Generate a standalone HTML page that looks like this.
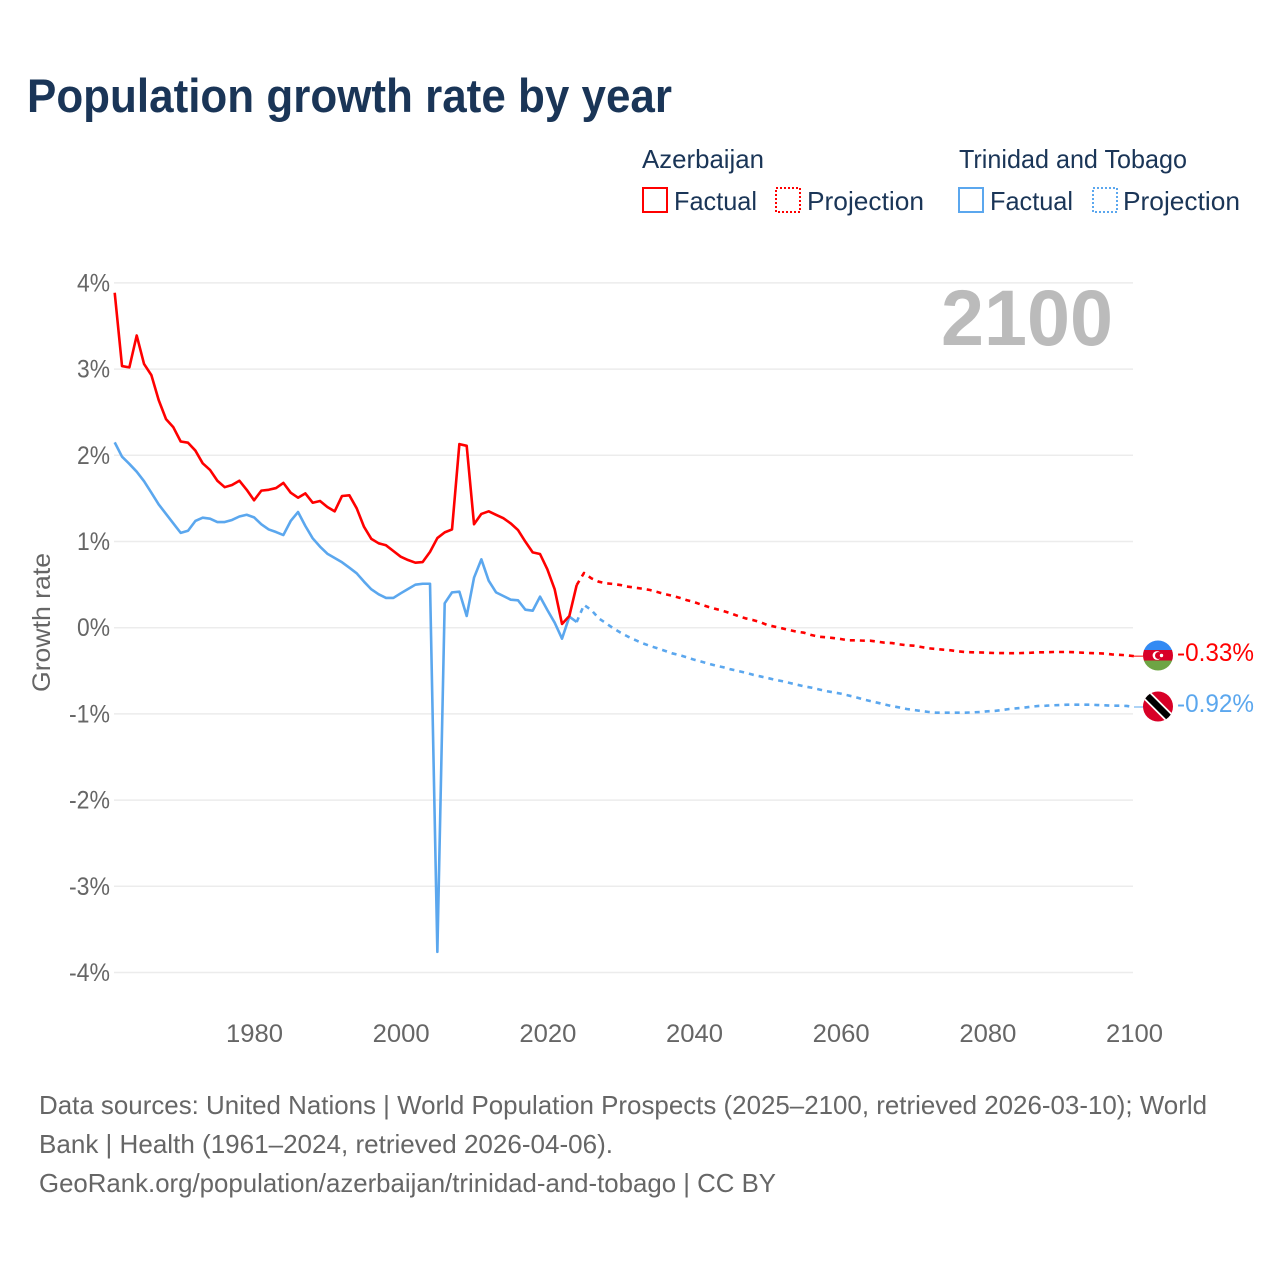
<!DOCTYPE html>
<html lang="en">
<head>
<meta charset="utf-8">
<title>Population growth rate by year</title>
<style>
html,body{margin:0;padding:0;background:#fff;}
svg{display:block;}
text{font-family:"Liberation Sans",sans-serif;}
</style>
</head>
<body>
<svg id="chart" xmlns="http://www.w3.org/2000/svg" width="1280" height="1280" viewBox="0 0 1280 1280">
  <rect x="0" y="0" width="1280" height="1280" fill="#ffffff"/>
  <text x="27" y="112" font-size="47" font-weight="700" fill="#1a3557" textLength="645" lengthAdjust="spacingAndGlyphs">Population growth rate by year</text>

  <g font-size="26" fill="#1a3557">
    <text x="642" y="168" textLength="122" lengthAdjust="spacingAndGlyphs">Azerbaijan</text>
    <text x="959" y="168" textLength="228" lengthAdjust="spacingAndGlyphs">Trinidad and Tobago</text>
    <rect x="643" y="188" width="24" height="24" fill="none" stroke="#ff0000" stroke-width="2"/>
    <text x="674" y="210" textLength="83" lengthAdjust="spacingAndGlyphs">Factual</text>
    <rect x="776" y="188" width="24" height="24" fill="none" stroke="#ff0000" stroke-width="2" stroke-dasharray="2 2"/>
    <text x="807" y="210" textLength="117" lengthAdjust="spacingAndGlyphs">Projection</text>
    <rect x="959" y="188" width="24" height="24" fill="none" stroke="#5ba7ee" stroke-width="2"/>
    <text x="990" y="210" textLength="83" lengthAdjust="spacingAndGlyphs">Factual</text>
    <rect x="1093" y="188" width="24" height="24" fill="none" stroke="#5ba7ee" stroke-width="2" stroke-dasharray="2 2"/>
    <text x="1123" y="210" textLength="117" lengthAdjust="spacingAndGlyphs">Projection</text>
  </g>

  <g id="grid-layer"></g>
  <g id="tick-layer" font-size="25" fill="#666666"></g>

  <text x="941" y="345" font-size="79" font-weight="700" fill="#bbbbbb" textLength="172" lengthAdjust="spacingAndGlyphs">2100</text>
  <text transform="translate(50,692) rotate(-90)" font-size="25" fill="#666666" textLength="139" lengthAdjust="spacingAndGlyphs">Growth rate</text>

  <g id="series-layer"></g>

  <defs>
    <clipPath id="clip-az"><circle cx="1158" cy="655.5" r="15"/></clipPath>
    <clipPath id="clip-tt"><circle cx="1158" cy="706.5" r="15"/></clipPath>
  </defs>
  <g clip-path="url(#clip-az)">
    <rect x="1143" y="640" width="30" height="11" fill="#338af3"/>
    <rect x="1143" y="650" width="30" height="11" fill="#d80027"/>
    <rect x="1143" y="660.5" width="30" height="11" fill="#6da544"/>
    <circle cx="1157" cy="655.5" r="4.4" fill="#ffffff"/>
    <circle cx="1158.5" cy="655.5" r="3.5" fill="#d80027"/>
    <circle cx="1161.5" cy="655.5" r="1.7" fill="#ffffff"/>
  </g>
  <g clip-path="url(#clip-tt)">
    <rect x="1143" y="691" width="30" height="31" fill="#d80027"/>
    <line x1="1143" y1="691.5" x2="1173" y2="721.5" stroke="#ffffff" stroke-width="10"/>
    <line x1="1143" y1="691.5" x2="1173" y2="721.5" stroke="#000000" stroke-width="6.5"/>
  </g>
  <text x="1177" y="661" font-size="25" fill="#ff0000" textLength="77" lengthAdjust="spacingAndGlyphs">-0.33%</text>
  <text x="1177" y="712" font-size="25" fill="#5ba7ee" textLength="77" lengthAdjust="spacingAndGlyphs">-0.92%</text>

  <g font-size="26" fill="#666666">
    <text x="39" y="1114" textLength="1168" lengthAdjust="spacingAndGlyphs">Data sources: United Nations | World Population Prospects (2025–2100, retrieved 2026-03-10); World</text>
    <text x="39" y="1153" textLength="574" lengthAdjust="spacingAndGlyphs">Bank | Health (1961–2024, retrieved 2026-04-06).</text>
    <text x="39" y="1192" textLength="737" lengthAdjust="spacingAndGlyphs">GeoRank.org/population/azerbaijan/trinidad-and-tobago | CC BY</text>
  </g>
</svg>
<script>
const factualStartYear = 1961;
const projectionStartYear = 2024;
const yTickValues = [4, 3, 2, 1, 0, -1, -2, -3, -4];
const yTickLabels = ['4%', '3%', '2%', '1%', '0%', '-1%', '-2%', '-3%', '-4%'];
const xTickYears = [1980, 2000, 2020, 2040, 2060, 2080, 2100];
const azerbaijanFactual = [
  3.886, 3.035, 3.02, 3.39, 3.06, 2.93, 2.64, 2.42, 2.325,
  2.16, 2.146, 2.055, 1.907, 1.83, 1.705, 1.63, 1.655, 1.705, 1.6,
  1.478, 1.59, 1.6, 1.62, 1.68, 1.566, 1.508, 1.558, 1.45, 1.47,
  1.4, 1.35, 1.528, 1.536, 1.385, 1.17, 1.03, 0.979, 0.956, 0.89,
  0.824, 0.785, 0.754, 0.762, 0.88, 1.04, 1.106, 1.14, 2.13, 2.11,
  1.2, 1.32, 1.35, 1.31, 1.27, 1.21, 1.133, 0.998, 0.874, 0.855,
  0.677, 0.445, 0.043, 0.136, 0.495
];
const azerbaijanProjection = [
  0.495, 0.635, 0.573, 0.534, 0.515, 0.507,
  0.495, 0.476, 0.464, 0.452, 0.437,
  0.414, 0.39, 0.371, 0.348, 0.32,
  0.298, 0.267, 0.24, 0.217, 0.194,
  0.167, 0.136, 0.109, 0.09, 0.066,
  0.031, 0.012, -0.007, -0.027, -0.046,
  -0.058, -0.085, -0.104, -0.111, -0.12,
  -0.131, -0.146, -0.146, -0.15, -0.151,
  -0.162, -0.174, -0.178, -0.193, -0.204,
  -0.209, -0.224, -0.239, -0.247, -0.255,
  -0.262, -0.274, -0.282, -0.285, -0.287,
  -0.29, -0.294, -0.294, -0.296, -0.296,
  -0.293, -0.29, -0.285, -0.285, -0.282,
  -0.282, -0.282, -0.285, -0.29, -0.294,
  -0.297, -0.3, -0.31, -0.315, -0.32,
  -0.33
];
const trinidadFactual = [
  2.15, 1.984, 1.9, 1.81, 1.7, 1.566, 1.43, 1.32, 1.21,
  1.1, 1.125, 1.238, 1.276, 1.265, 1.226, 1.226, 1.25, 1.29, 1.31,
  1.28, 1.2, 1.14, 1.11, 1.075, 1.238, 1.342, 1.18, 1.037, 0.94,
  0.858, 0.809, 0.759, 0.696, 0.631, 0.534, 0.445, 0.387, 0.345, 0.345,
  0.399, 0.449, 0.499, 0.51, 0.51, -3.76, 0.283, 0.41, 0.418, 0.136,
  0.58, 0.793, 0.545, 0.41, 0.368, 0.325, 0.318, 0.209, 0.197, 0.36,
  0.205, 0.058, -0.127, 0.128, 0.066
];
const trinidadProjection = [
  0.066, 0.265, 0.205, 0.109, 0.051, -0.007,
  -0.058, -0.104, -0.143, -0.181, -0.212,
  -0.239, -0.267, -0.297, -0.317, -0.343,
  -0.371, -0.394, -0.418, -0.441, -0.459,
  -0.483, -0.502, -0.522, -0.545, -0.564,
  -0.583, -0.603, -0.62, -0.64, -0.66,
  -0.68, -0.695, -0.715, -0.735, -0.75,
  -0.765, -0.785, -0.805, -0.83, -0.85,
  -0.87, -0.89, -0.91, -0.925, -0.943,
  -0.955, -0.966, -0.978, -0.986, -0.986,
  -0.986, -0.986, -0.986, -0.982, -0.978,
  -0.97, -0.966, -0.955, -0.943, -0.935,
  -0.927, -0.916, -0.908, -0.905, -0.9,
  -0.897, -0.893, -0.893, -0.893, -0.893,
  -0.897, -0.9, -0.905, -0.905, -0.908,
  -0.92
];

const SVG_NS = 'http://www.w3.org/2000/svg';
const RED = '#ff0000';
const BLUE = '#5ba7ee';
const FLAG_EDGE_X = 1143;

function xScale(year) {
  return 114.7 + (year - 1961) * (1134 - 114.7) / (2100 - 1961);
}
function yScale(value) {
  return 627.7 - value * 86.2;
}
function make(tag, attrs) {
  const el = document.createElementNS(SVG_NS, tag);
  Object.keys(attrs).forEach(function (k) { el.setAttribute(k, attrs[k]); });
  return el;
}
function pathFor(values, startYear) {
  return values.map(function (v, i) {
    return (i ? 'L' : 'M') + xScale(startYear + i).toFixed(2) + ' ' + yScale(v).toFixed(2);
  }).join(' ');
}

const gridLayer = document.getElementById('grid-layer');
const tickLayer = document.getElementById('tick-layer');
const seriesLayer = document.getElementById('series-layer');

yTickValues.forEach(function (v, i) {
  const line = make('line', { x1: 114, x2: 1133, y1: yScale(v), y2: yScale(v), stroke: '#ececec', 'stroke-width': 1.5 });
  
  
  gridLayer.appendChild(line);
  const tickText = yTickLabels[i];
  const label = make('text', { x: 110, y: yScale(v) + 8.5, 'text-anchor': 'end', textLength: tickText.length === 2 ? 33 : 41, lengthAdjust: 'spacingAndGlyphs' });
  
  
  label.textContent = tickText;
  tickLayer.appendChild(label);
});

xTickYears.forEach(function (year) {
  const label = make('text', { x: xScale(year) + 0.5, y: 1042, 'text-anchor': 'middle', textLength: 57, lengthAdjust: 'spacingAndGlyphs' });
  
  
  label.textContent = String(year);
  tickLayer.appendChild(label);
});

function drawLine(values, startYear, color, dashed, name) {
  const path = make('path', { d: pathFor(values, startYear), fill: 'none', stroke: color, 'stroke-width': 2.6, 'stroke-linejoin': 'round' });
  if (dashed) {
    path.setAttribute('stroke-dasharray', '5 5');
  }
  
  
  seriesLayer.appendChild(path);
}

function drawConnector(values, color, name) {
  const lastValue = values[values.length - 1];
  const line = make('line', { x1: xScale(2100), x2: FLAG_EDGE_X, y1: yScale(lastValue), y2: yScale(lastValue), stroke: color, 'stroke-width': 1 });
  
  
  seriesLayer.appendChild(line);
}

drawLine(trinidadFactual, factualStartYear, BLUE, false, 'line-trinidad-factual');
drawLine(azerbaijanFactual, factualStartYear, RED, false, 'line-azerbaijan-factual');
drawLine(trinidadProjection, projectionStartYear, BLUE, true, 'line-trinidad-projection');
drawLine(azerbaijanProjection, projectionStartYear, RED, true, 'line-azerbaijan-projection');
drawConnector(azerbaijanProjection, RED, 'connector-azerbaijan');
drawConnector(trinidadProjection, BLUE, 'connector-trinidad');
</script>
</body>
</html>
